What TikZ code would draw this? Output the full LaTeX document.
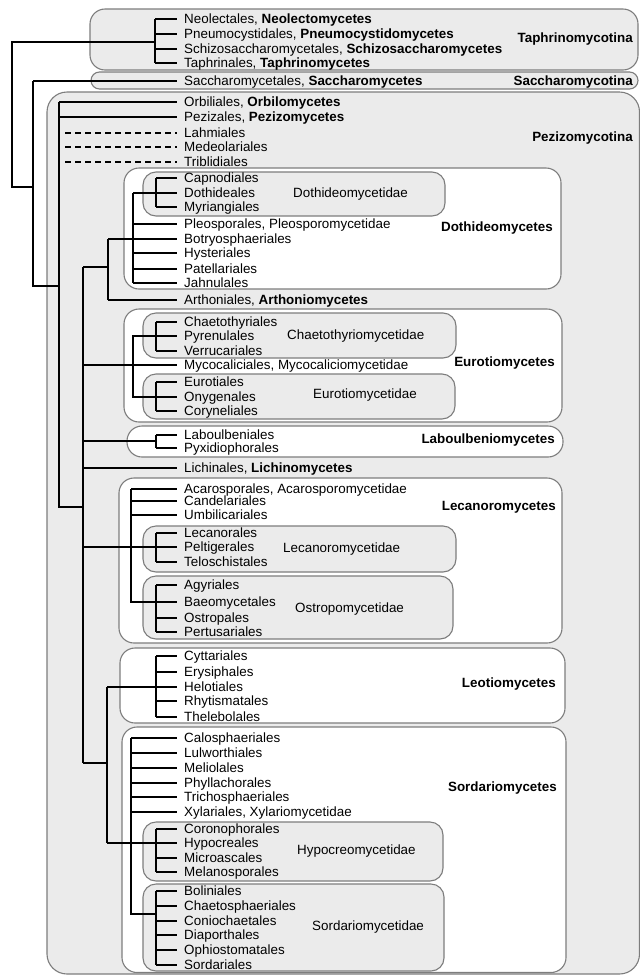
\documentclass[tikz,border=0pt]{standalone}
\usepackage{fontspec}
\setmainfont{Liberation Sans}
\definecolor{boxgray}{HTML}{EBEBEB}
\definecolor{edgegray}{HTML}{7D7D7D}
\tikzset{
  br/.style={line width=1.4pt, black},
  leaf/.style={anchor=west, inner xsep=7pt, inner ysep=0pt, text height=9.6pt, text depth=0pt, font=\fontsize{13.4}{14}\selectfont},
  lbl/.style={inner sep=0pt, text height=9.6pt, text depth=0pt, font=\fontsize{13.4}{14}\selectfont},
  grpbox/.style={draw=edgegray, line width=1.1pt, fill=boxgray},
  clsbox/.style={draw=edgegray, line width=1.1pt, fill=white}
}
\newcommand\lf[4]{%
  \node[leaf] (#1) at (177,#3) {#4};
  \coordinate (#1b) at (#2,#3);
  \draw[br] (#1b) -- (#1.west);}
\newcommand\dlf[3]{%
  \node[leaf] (#1) at (177,#2) {#3};
  \coordinate (#1b) at (65,#2);
  \draw[br, dash pattern=on 6pt off 4pt] (#1b) -- (#1.west);}
\begin{document}
\begin{tikzpicture}[x=1pt,y=-1pt]
\useasboundingbox (0,0) rectangle (640,975);
% ---------- boxes ----------
\draw[grpbox, rounded corners=15pt] (90,9) rectangle (638,70);
\draw[grpbox, rounded corners=8.5pt] (91,72) rectangle (638,89);
\draw[grpbox, rounded corners=20pt] (47,92) rectangle (639.5,974);
\draw[clsbox, rounded corners=15pt] (124,168) rectangle (561,289);
\draw[grpbox, rounded corners=13pt] (143,172) rectangle (445,216);
\draw[clsbox, rounded corners=15pt] (124,309) rectangle (562,422);
\draw[grpbox, rounded corners=13pt] (143,313) rectangle (456,358);
\draw[grpbox, rounded corners=13pt] (143,374) rectangle (455,419);
\draw[clsbox, rounded corners=15pt] (127,426) rectangle (563,457);
\draw[clsbox, rounded corners=15pt] (119,478) rectangle (562,643);
\draw[grpbox, rounded corners=13pt] (143,526) rectangle (456,572);
\draw[grpbox, rounded corners=13pt] (143,576) rectangle (453,639);
\draw[clsbox, rounded corners=15pt] (120,648) rectangle (565,723);
\draw[clsbox, rounded corners=15pt] (122,727) rectangle (566,972.5);
\draw[grpbox, rounded corners=13pt] (143,822) rectangle (443,881);
\draw[grpbox, rounded corners=13pt] (143,884) rectangle (444,971);
% ---------- group labels ----------
\node[lbl, anchor=east, font=\fontsize{13.4}{14}\selectfont\bfseries] (Ltaph) at (633,38) {Taphrinomycotina};
\node[lbl, anchor=east, font=\fontsize{13.4}{14}\selectfont\bfseries] (Lsacc) at (633,81) {Saccharomycotina};
\node[lbl, anchor=east, font=\fontsize{13.4}{14}\selectfont\bfseries] (Lpezi) at (633,137) {Pezizomycotina};
\node[lbl, anchor=east, font=\fontsize{13.4}{14}\selectfont\bfseries] (Ldoth) at (553,227) {Dothideomycetes};
\node[lbl, anchor=east, font=\fontsize{13.4}{14}\selectfont\bfseries] (Leuro) at (555,362) {Eurotiomycetes};
\node[lbl, anchor=east, font=\fontsize{13.4}{14}\selectfont\bfseries] (Llab) at (555,439) {Laboulbeniomycetes};
\node[lbl, anchor=east, font=\fontsize{13.4}{14}\selectfont\bfseries] (Llec) at (556,506) {Lecanoromycetes};
\node[lbl, anchor=east, font=\fontsize{13.4}{14}\selectfont\bfseries] (Lleo) at (556,683) {Leotiomycetes};
\node[lbl, anchor=east, font=\fontsize{13.4}{14}\selectfont\bfseries] (Lsor) at (557,787) {Sordariomycetes};
\node[lbl, anchor=west] (Sdoth) at (293,193) {Dothideomycetidae};
\node[lbl, anchor=west] (Schae) at (287,335) {Chaetothyriomycetidae};
\node[lbl, anchor=west] (Seuro) at (313,394) {Eurotiomycetidae};
\node[lbl, anchor=west] (Slec) at (283,548) {Lecanoromycetidae};
\node[lbl, anchor=west] (Sost) at (295,608) {Ostropomycetidae};
\node[lbl, anchor=west] (Shyp) at (297,850) {Hypocreomycetidae};
\node[lbl, anchor=west] (Ssor) at (312,926) {Sordariomycetidae};
% ---------- leaves ----------
\lf{Neo}{155}{19}{Neolectales, \textbf{Neolectomycetes}}
\lf{Pne}{155}{34}{Pneumocystidales, \textbf{Pneumocystidomycetes}}
\lf{Sch}{155}{49}{Schizosaccharomycetales, \textbf{Schizosaccharomycetes}}
\lf{Tap}{155}{63}{Taphrinales, \textbf{Taphrinomycetes}}
\lf{Sac}{33}{81}{Saccharomycetales, \textbf{Saccharomycetes}}
\lf{Orb}{59}{102}{Orbiliales, \textbf{Orbilomycetes}}
\lf{Pez}{59}{117}{Pezizales, \textbf{Pezizomycetes}}
\dlf{Lah}{133}{Lahmiales}
\dlf{Med}{147}{Medeolariales}
\dlf{Tri}{162}{Triblidiales}
\lf{Cap}{156}{178}{Capnodiales}
\lf{Dot}{156}{193}{Dothideales}
\lf{Myr}{156}{207}{Myriangiales}
\lf{Ple}{133}{224}{Pleosporales, Pleosporomycetidae}
\lf{Bot}{108}{239}{Botryosphaeriales}
\lf{Hys}{133}{253}{Hysteriales}
\lf{Pat}{133}{269}{Patellariales}
\lf{Jah}{133}{283}{Jahnulales}
\lf{Art}{108}{300}{Arthoniales, \textbf{Arthoniomycetes}}
\lf{Cha}{156}{322}{Chaetothyriales}
\lf{Pyr}{156}{336}{Pyrenulales}
\lf{Ver}{156}{351}{Verrucariales}
\lf{Myc}{83}{365}{Mycocaliciales, Mycocaliciomycetidae}
\lf{Eur}{156}{382}{Eurotiales}
\lf{Ony}{156}{397}{Onygenales}
\lf{Cor}{156}{411}{Coryneliales}
\lf{Lab}{156}{435}{Laboulbeniales}
\lf{Pyx}{156}{448}{Pyxidiophorales}
\lf{Lic}{83}{468}{Lichinales, \textbf{Lichinomycetes}}
\lf{Aca}{131}{489}{Acarosporales, Acarosporomycetidae}
\lf{Can}{131}{501}{Candelariales}
\lf{Umb}{131}{515}{Umbilicariales}
\lf{Lec}{156}{533}{Lecanorales}
\lf{Pel}{156}{547}{Peltigerales}
\lf{Tel}{156}{562}{Teloschistales}
\lf{Agy}{156}{585}{Agyriales}
\lf{Bae}{156}{602}{Baeomycetales}
\lf{Ost}{156}{618}{Ostropales}
\lf{Per}{156}{632}{Pertusariales}
\lf{Cyt}{156}{656}{Cyttariales}
\lf{Ery}{156}{672}{Erysiphales}
\lf{Hel}{156}{687}{Helotiales}
\lf{Rhy}{156}{701}{Rhytismatales}
\lf{The}{156}{717}{Thelebolales}
\lf{Cal}{131}{738}{Calosphaeriales}
\lf{Lul}{131}{753}{Lulworthiales}
\lf{Mel}{131}{768}{Meliolales}
\lf{Phy}{131}{783}{Phyllachorales}
\lf{Tric}{131}{797}{Trichosphaeriales}
\lf{Xyl}{131}{812}{Xylariales, Xylariomycetidae}
\lf{Coro}{156}{829}{Coronophorales}
\lf{Hyp}{156}{843}{Hypocreales}
\lf{Mic}{156}{858}{Microascales}
\lf{Mela}{156}{872}{Melanosporales}
\lf{Bol}{156}{891}{Boliniales}
\lf{Chs}{156}{906}{Chaetosphaeriales}
\lf{Con}{156}{921}{Coniochaetales}
\lf{Dia}{156}{935}{Diaporthales}
\lf{Oph}{156}{950}{Ophiostomatales}
\lf{Sor}{156}{965}{Sordariales}
% ---------- internal branch points ----------
\coordinate (tapr) at (155,42);
\coordinate (r0) at (12,42);
\coordinate (r1) at (12,187);
\coordinate (r2) at (33,187);
\coordinate (r3) at (33,286);
\coordinate (r4) at (59,286);
\coordinate (r5) at (59,507);
\coordinate (r6) at (83,507);
\coordinate (d0) at (83,267);
\coordinate (d1) at (108,267);
\coordinate (d2) at (133,193);
\coordinate (l0) at (83,763);
\coordinate (l1) at (107,763);
\coordinate (l2) at (107,687);
\coordinate (l3) at (107,843);
\coordinate (e1) at (133,336);
\coordinate (e2) at (133,397);
\coordinate (la0) at (83,441);
\coordinate (la1) at (156,441);
\coordinate (le0) at (83,547);
\coordinate (le1) at (131,602);
\coordinate (s1) at (131,914);
\coordinate (s2) at (156,914);
% ---------- tree connectors ----------
\draw[br] (Neob) -- (Tapb);
\draw[br] (tapr) -- (r0) -- (r1) -- (r2);
\draw[br] (Sacb) -- (r3) -- (r4);
\draw[br] (Orbb) -- (r5) -- (r6);
\draw[br] (d0) -- (l0);
\draw[br] (d0) -- (d1);
\draw[br] (Botb) -- (Artb);
\draw[br] (d2) -- (Jahb);
\draw[br] (d2) -- (Dotb);
\draw[br] (Capb) -- (Myrb);
\draw[br] (Pyrb) -- (e1) -- (e2) -- (Onyb);
\draw[br] (Chab) -- (Verb);
\draw[br] (Eurb) -- (Corb);
\draw[br] (la0) -- (la1);
\draw[br] (Labb) -- (Pyxb);
\draw[br] (le0) -- (Pelb);
\draw[br] (Acab) -- (le1) -- (Baeb);
\draw[br] (Lecb) -- (Telb);
\draw[br] (Agyb) -- (Perb);
\draw[br] (l0) -- (l1);
\draw[br] (l2) -- (l3);
\draw[br] (l2) -- (Helb);
\draw[br] (l3) -- (Hypb);
\draw[br] (Cytb) -- (Theb);
\draw[br] (Calb) -- (s1) -- (s2);
\draw[br] (Corob) -- (Melab);
\draw[br] (Bolb) -- (Sorb);
\end{tikzpicture}
\end{document}
